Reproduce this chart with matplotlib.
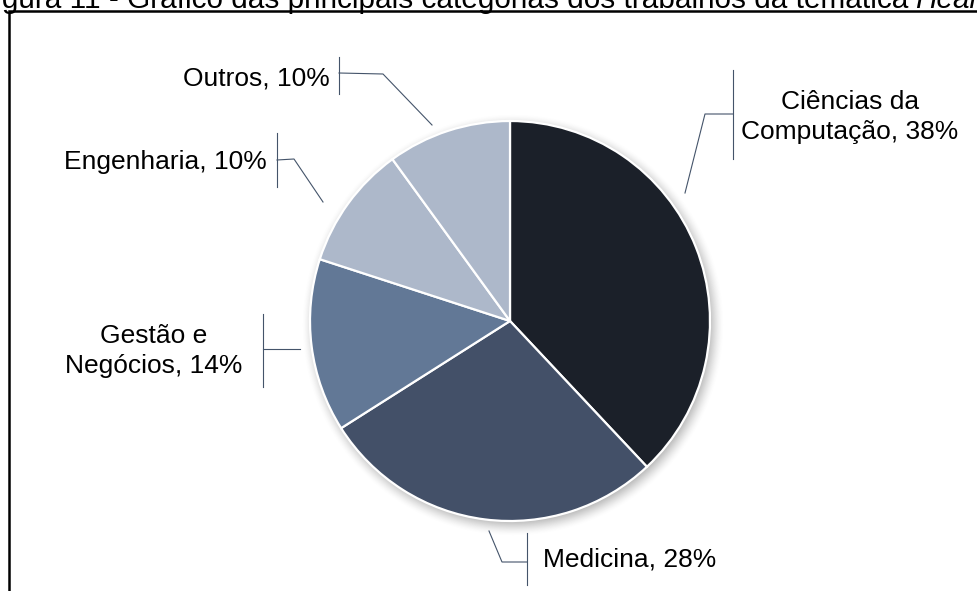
import numpy as np
import matplotlib
matplotlib.use("Agg")
import matplotlib.pyplot as plt

# Main categories of the works on the Health theme (share of works, %)
categories = ["Ciências da\nComputação", "Medicina", "Gestão e\nNegócios", "Engenharia", "Outros"]
shares = [38, 28, 14, 10, 10]
colors = ["#1b2029", "#435068", "#627896", "#adb8ca", "#adb8ca"]

W, H = 978, 591
plt.rcParams["font.family"] = ["Liberation Sans", "DejaVu Sans"]

fig = plt.figure(figsize=(W / 100, H / 100), dpi=100)
ax = fig.add_axes([0, 0, 1, 1])


def Y(y):
    """Convert a top-down pixel row into the axes' bottom-up coordinate."""
    return H - y


cx, cy, R = 510, 321, 200

# soft drop shadow under the pie
n = 700
xs = np.linspace(cx - 350, cx + 350, n)
ys = np.linspace(Y(cy) - 350, Y(cy) + 350, n)
XX, YY = np.meshgrid(xs, ys)
d = np.hypot(XX - (cx + 3), YY - (Y(cy) - 4))
spread = 12.0
t = np.clip((R + spread - d) / (2 * spread), 0, 1)
alpha = 0.55 * t * t * (3 - 2 * t)
rgba = np.zeros((n, n, 4))
rgba[..., :3] = 0.35
rgba[..., 3] = alpha
ax.imshow(rgba, extent=(xs[0], xs[-1], ys[0], ys[-1]), origin="lower",
          interpolation="bilinear", zorder=1)

ax.pie(shares, colors=colors, startangle=90, counterclock=False,
       center=(cx, Y(cy)), radius=R,
       wedgeprops=dict(edgecolor="white", linewidth=1.6, zorder=2))

ax.set_xlim(0, W)
ax.set_ylim(0, H)
ax.set_aspect("equal")
ax.axis("off")

# data labels with leader lines
line_color = "#44546a"
fs = 19
labels = [f"{c}, {s}%" for c, s in zip(categories, shares)]
label_layout = [
    dict(xy=(850, 117), ha="center",
         bar=((733, 70), (733, 159)), path=[(733, 114), (705, 114), (685, 193)]),
    dict(xy=(543, 560), ha="left",
         bar=((527, 533), (527, 585)), path=[(527, 562), (502, 562), (489, 531)]),
    dict(xy=(154, 351), ha="center",
         bar=((263, 314), (263, 387)), path=[(263, 349), (300, 349)]),
    dict(xy=(267, 162), ha="right",
         bar=((277, 133), (277, 187)), path=[(277, 160), (294, 159), (323, 202)]),
    dict(xy=(330, 78), ha="right",
         bar=((339, 57), (339, 94)), path=[(339, 73), (383, 74), (432, 125)]),
]
for text, lay in zip(labels, label_layout):
    (x0, y0), (x1, y1) = lay["bar"]
    ax.plot([x0, x1], [Y(y0), Y(y1)], color=line_color, lw=0.8, zorder=3)
    px = [p[0] for p in lay["path"]]
    py = [Y(p[1]) for p in lay["path"]]
    ax.plot(px, py, color=line_color, lw=0.8, zorder=3)
    ax.text(lay["xy"][0], Y(lay["xy"][1]), text, ha=lay["ha"], va="center",
            multialignment="center", fontsize=fs, color="black",
            linespacing=1.3, zorder=4)

# frame around the chart area
ax.plot([9, 9, W + 5], [Y(H + 5), Y(11), Y(11)], color="black", lw=1.8,
        solid_joinstyle="miter", zorder=5)

# caption above the frame (the axes map one data unit to one pixel)
tfs = 21.4
t1 = ax.text(-23, Y(8), "Figura 11 - Gráfico das principais categorias dos trabalhos da temática",
             ha="left", va="baseline", fontsize=tfs, color="black")
fig.canvas.draw()
bb = t1.get_window_extent(renderer=fig.canvas.get_renderer())
ax.text(bb.x1 + 7, Y(8), "Health", ha="left", va="baseline", fontsize=tfs,
        style="italic", color="black")

fig.savefig("out.png", dpi=100)
